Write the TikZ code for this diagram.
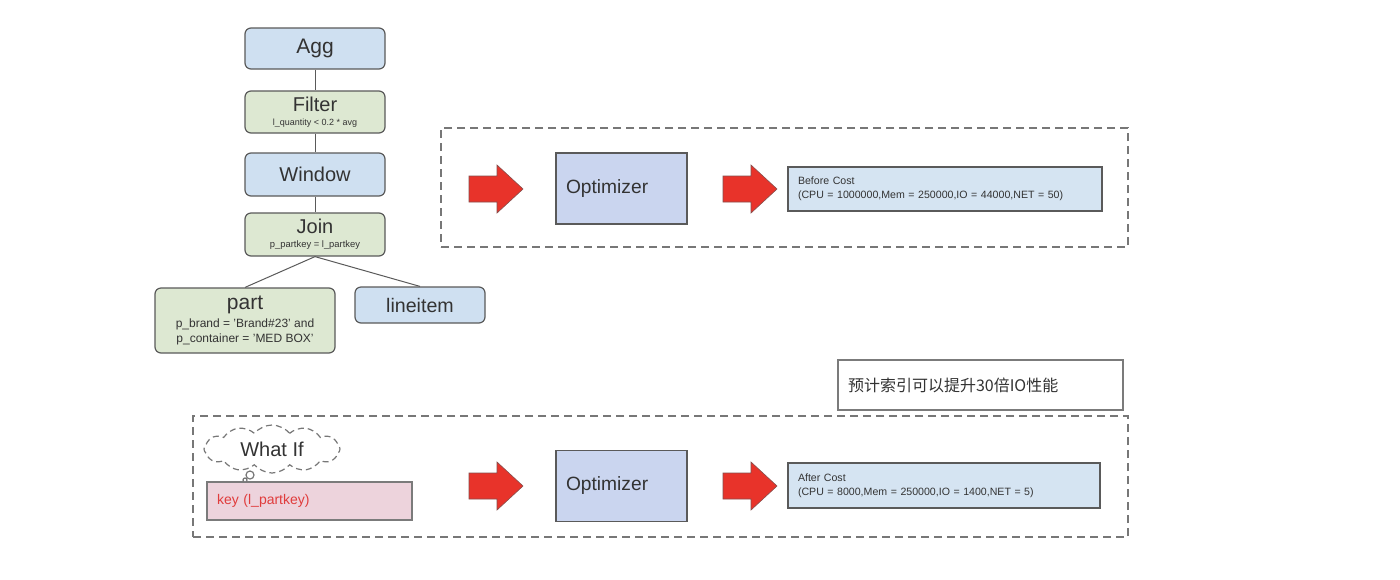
\documentclass[tikz,border=0pt]{standalone}
\usepackage{fontspec}
\setmainfont{Liberation Sans}
\newfontfamily\cjk{Noto Sans CJK SC}
\usetikzlibrary{shapes.symbols}
\definecolor{bluebox}{HTML}{CFE0F1}
\definecolor{greenbox}{HTML}{DDE8D2}
\definecolor{optbox}{HTML}{CAD5EF}
\definecolor{costbox}{HTML}{D5E4F2}
\definecolor{pinkbox}{HTML}{EDD3DC}
\definecolor{edge}{HTML}{5A5A5A}
\definecolor{txt}{HTML}{333333}
\definecolor{redarrow}{HTML}{E8332A}
\definecolor{redtext}{HTML}{E03C3C}
\definecolor{dashc}{HTML}{777777}
\tikzset{
  treebox/.style={draw=edge, line width=0.6pt, rounded corners=3pt, text=txt, align=center, inner sep=0pt, minimum width=70pt},
  bluenode/.style={treebox, fill=bluebox},
  greennode/.style={treebox, fill=greenbox},
  optnode/.style={draw=edge, line width=0.75pt, fill=optbox, text=txt, minimum width=65.5pt, minimum height=35.5pt, text width=55.5pt, inner xsep=5pt, align=left, font=\fontsize{9.6}{11}\selectfont},
  costnode/.style={draw=edge, line width=0.6pt, fill=costbox, text=txt, minimum width=157pt, minimum height=22pt, text width=147pt, inner xsep=5pt, align=left, font=\fontsize{5.3}{7}\selectfont},
  dashbox/.style={draw=dashc, dashed, line width=0.6pt, dash pattern=on 4pt off 2.5pt},
  treeline/.style={draw=edge, line width=0.5pt},
  bigarrow/.style={fill=redarrow, draw=edge!70!redarrow, line width=0.3pt},
  bubble/.style={draw=dashc, line width=0.6pt, fill=white, circle, inner sep=0pt},
}
\begin{document}
\begin{tikzpicture}[x=0.5pt,y=-0.5pt]
\useasboundingbox (0,0) rectangle (1400,579);
\fill[white] (0,0) rectangle (1400,579);

% tree
\node[bluenode, minimum height=20.5pt, font=\fontsize{10.5}{12}\selectfont] (agg) at (315,48.5) {Agg};
\node[greennode, minimum height=21pt, font=\fontsize{4.5}{7}\selectfont] (filter) at (315,112) {{\fontsize{10}{7}\selectfont Filter}\\l\_quantity < 0.2 * avg};
\node[bluenode, minimum height=21.5pt, font=\fontsize{10}{12}\selectfont] (window) at (315,174.5) {Window};
\node[greennode, minimum height=21.5pt, font=\fontsize{4.7}{7}\selectfont] (join) at (315,234.5) {{\fontsize{10}{7}\selectfont Join}\\p\_partkey = l\_partkey};
\node[greennode, minimum width=90pt, minimum height=32.5pt, font=\fontsize{6}{7.6}\selectfont] (part) at (245,320.5) {{\fontsize{10.5}{7.6}\selectfont part}\\[1.6pt]p\_brand = 'Brand\#23' and\\p\_container = 'MED BOX'};
\node[bluenode, minimum width=65pt, minimum height=18pt, font=\fontsize{9.8}{12}\selectfont] (lineitem) at (420,305) {lineitem};

\draw[treeline] (agg.south) -- (filter.north);
\draw[treeline] (filter.south) -- (window.north);
\draw[treeline] (window.south) -- (join.north);
\draw[treeline] (join.south) -- (part.north);
\draw[treeline] (join.south) -- (lineitem.north);

% top row
\node[dashbox, minimum width=343.5pt, minimum height=59.5pt, inner sep=0pt] (topframe) at (784.5,187.5) {};
\fill[bigarrow] (469,176) -- (497,176) -- (497,165) -- (523,189) -- (497,213) -- (497,202) -- (469,202) -- cycle;
\node[optnode] (opt1) at (621.5,188.5) {Optimizer};
\fill[bigarrow] (723,176) -- (751,176) -- (751,165) -- (777,189) -- (751,213) -- (751,202) -- (723,202) -- cycle;
\node[costnode] (before) at (945,189) {Before Cost\\(CPU = 1000000,Mem = 250000,IO = 44000,NET = 50)};

% note
\node[draw=edge!80, line width=0.6pt, fill=white, text=txt, minimum width=142.5pt, minimum height=25pt, text width=132.5pt, inner xsep=5pt, align=left, font=\cjk\fontsize{8}{9}\selectfont] (note) at (980.5,385) {预计索引可以提升30倍IO性能};

% bottom row
\node[dashbox, minimum width=467.5pt, minimum height=60.5pt, inner sep=0pt] (botframe) at (660.5,476.5) {};
\node[draw=edge!80, line width=0.6pt, fill=pinkbox, text=redtext, minimum width=102.5pt, minimum height=19pt, text width=92.5pt, inner xsep=5pt, align=left, font=\fontsize{7}{8}\selectfont] (key) at (309.5,501) {key (l\_partkey)};
\node[cloud, draw=dashc, dashed, dash pattern=on 3pt off 2pt, line width=0.6pt, fill=white, cloud puffs=12, cloud puff arc=100, aspect=3, minimum width=68pt, minimum height=24pt, inner sep=0pt, text=txt, font=\fontsize{10}{12}\selectfont] (whatif) at (272,449) {What If};
\node[bubble, minimum size=4pt] (bub1) at (250,475) {};
\node[bubble, minimum size=2pt] (bub2) at (245,480) {};

\fill[bigarrow] (469,473) -- (497,473) -- (497,462) -- (523,486) -- (497,510) -- (497,499) -- (469,499) -- cycle;
\node[optnode] (opt2) at (621.5,486) {Optimizer};
\fill[bigarrow] (723,473) -- (751,473) -- (751,462) -- (777,486) -- (751,510) -- (751,499) -- (723,499) -- cycle;
\node[costnode, minimum width=156pt, text width=146pt, minimum height=22.5pt] (after) at (944,485.5) {After Cost\\(CPU = 8000,Mem = 250000,IO = 1400,NET = 5)};
\end{tikzpicture}
\end{document}
